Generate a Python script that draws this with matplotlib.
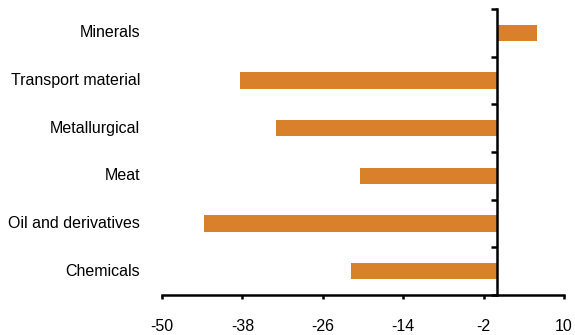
import matplotlib
matplotlib.use("Agg")
import matplotlib.pyplot as plt
import numpy as np

plt.rcParams['font.family'] = ['Liberation Sans', 'DejaVu Sans']

categories = ["Minerals", "Transport material", "Metallurgical", "Meat",
              "Oil and derivatives", "Chemicals"]
values = [5.9, -38.4, -33.0, -20.4, -43.8, -21.8]
xticks = [-50, -38, -26, -14, -2, 10]

fig = plt.figure(figsize=(5.75, 3.35), dpi=100)
ax = fig.add_axes([162/575, 1 - 295/335, 402/575, 286/335])

y = np.arange(len(categories))
ax.barh(y, values, height=0.34, color='#D8802A')

ax.set_xlim(-50, 10)
ax.set_ylim(len(categories) - 0.5, -0.5)
ax.set_xticks(xticks)
ax.set_xticklabels([str(t) for t in xticks], fontsize=11.5)

# y axis sits at zero, ticks between categories
ax.spines['left'].set_position(('data', 0))
ax.spines['right'].set_visible(False)
ax.spines['top'].set_visible(False)
ax.spines['left'].set_linewidth(1.8)
ax.spines['bottom'].set_linewidth(1.8)
ax.set_yticks(np.arange(-0.5, len(categories), 1))
ax.set_yticklabels([])
ax.tick_params(axis='y', direction='out', length=4, width=1.8)
ax.tick_params(axis='x', direction='out', length=3, width=1.8, pad=14.5)

for i, c in enumerate(categories):
    ax.text(-0.055, i, c, transform=ax.get_yaxis_transform(),
            ha='right', va='center', fontsize=11.5)

fig.savefig("out.png", dpi=100)
